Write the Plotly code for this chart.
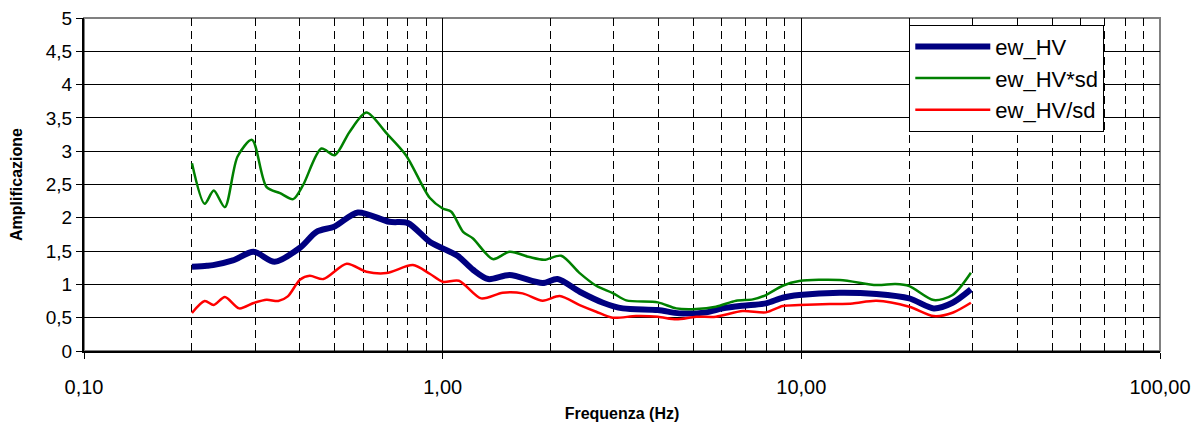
import plotly.graph_objects as go

# valori (frequenza in Hz, ampiezza)
freq_hv = [0.2, 0.22, 0.229, 0.26, 0.297, 0.34, 0.4, 0.445, 0.5, 0.58, 0.71, 0.8, 0.92,
           1.0, 1.1, 1.215, 1.34, 1.537, 1.9, 2.09, 2.41, 2.8, 3.18, 3.98, 4.57, 5.42,
           6.04, 6.86, 7.97, 8.87, 9.87, 12.8, 16.2, 20, 23.4, 26.4, 29.7]
ew_hv = [1.265, 1.28, 1.29, 1.36, 1.49, 1.34, 1.55, 1.79, 1.87, 2.08, 1.94, 1.92, 1.64,
         1.54, 1.43, 1.22, 1.08, 1.14, 1.02, 1.08, 0.89, 0.725, 0.64, 0.615, 0.565, 0.58,
         0.64, 0.68, 0.715, 0.8, 0.84, 0.875, 0.855, 0.79, 0.64, 0.725, 0.925]

freq_hv_sd = [0.2, 0.217, 0.23, 0.247, 0.268, 0.294, 0.323, 0.352, 0.383, 0.408, 0.459,
              0.5, 0.55, 0.613, 0.697, 0.79, 0.92, 1.0, 1.057, 1.14, 1.215, 1.38, 1.537,
              1.746, 1.92, 2.14, 2.41, 2.68, 2.98, 3.25, 3.98, 4.48, 5.09, 5.78, 6.58,
              7.32, 7.97, 8.87, 9.87, 12.8, 16.2, 18.3, 20, 23.4, 26.4, 29.7]
ew_hv_per_sd = [2.82, 2.21, 2.41, 2.16, 2.92, 3.17, 2.46, 2.37, 2.28, 2.49, 3.04,
                2.94, 3.29, 3.58, 3.27, 2.94, 2.3, 2.14, 2.09, 1.79, 1.69, 1.38, 1.49,
                1.41, 1.37, 1.43, 1.17, 0.98, 0.87, 0.76, 0.73, 0.64, 0.63, 0.665, 0.755,
                0.775, 0.84, 0.98, 1.05, 1.066, 0.99, 1.005, 0.975, 0.765, 0.84, 1.175]

freq_hv_div = [0.2, 0.217, 0.23, 0.247, 0.271, 0.297, 0.323, 0.348, 0.37, 0.4, 0.426,
               0.465, 0.54, 0.613, 0.697, 0.826, 0.92, 1.0, 1.11, 1.28, 1.47, 1.67, 1.9,
               2.12, 2.41, 2.68, 2.98, 3.46, 3.98, 4.48, 5.09, 5.78, 6.86, 7.97, 8.87,
               9.87, 12, 13.9, 16.2, 20, 23.4, 26.4, 29.7]
ew_hv_div_sd = [0.57, 0.75, 0.69, 0.81, 0.64, 0.72, 0.77, 0.75, 0.82, 1.07, 1.13,
                1.08, 1.31, 1.19, 1.17, 1.29, 1.16, 1.04, 1.055, 0.79, 0.875, 0.865, 0.755,
                0.825, 0.69, 0.59, 0.5, 0.525, 0.515, 0.475, 0.515, 0.515, 0.6, 0.58, 0.675,
                0.69, 0.705, 0.715, 0.755, 0.665, 0.525, 0.575, 0.725]

x_tickvals = [0.1, 1, 10, 100]
x_ticktext = ["0,10", "1,00", "10,00", "100,00"]
x_minor = [m * d for d in (0.1, 1, 10) for m in range(2, 10)]

font = "Liberation Sans, Arial, sans-serif"

fig = go.Figure()
fig.add_trace(go.Scatter(x=freq_hv, y=ew_hv, mode="lines", name="ew_HV",
                         line=dict(color="#000080", width=6, shape="spline", smoothing=0.8)))
fig.add_trace(go.Scatter(x=freq_hv_sd, y=ew_hv_per_sd, mode="lines", name="ew_HV*sd",
                         line=dict(color="#008000", width=2.5, shape="spline", smoothing=0.8)))
fig.add_trace(go.Scatter(x=freq_hv_div, y=ew_hv_div_sd, mode="lines", name="ew_HV/sd",
                         line=dict(color="#FF0000", width=2.5, shape="spline", smoothing=0.8)))

# bordo grigio dell'area del grafico
fig.add_shape(type="rect", xref="paper", yref="paper", x0=0, x1=1, y0=0, y1=1,
              line=dict(color="#808080", width=2), layer="below")

# la pagina ha 8px di margine nel body, quindi la figura e' un po' piu' piccola
fig.update_layout(
    width=1192, height=419,
    margin=dict(l=76, r=40, t=10, b=76),
    paper_bgcolor="white", plot_bgcolor="white",
    separators=", ",
    font=dict(family=font, size=19, color="black"),
    showlegend=True,
    legend=dict(x=0.767, y=0.98, xanchor="left", yanchor="top",
                bgcolor="white", bordercolor="black", borderwidth=1,
                font=dict(size=22), itemwidth=75, tracegroupgap=0),
    xaxis=dict(type="log", range=[-1, 2], automargin=False,
               tickmode="array", tickvals=x_tickvals, ticktext=x_ticktext,
               tickfont=dict(size=20),
               ticks="outside", ticklen=6, tickcolor="black",
               ticklabelstandoff=11,
               showgrid=True, gridcolor="black", gridwidth=1,
               showline=True, linecolor="black", linewidth=2,
               minor=dict(tickmode="array", tickvals=x_minor, ticks="inside", ticklen=6,
                          tickcolor="black", showgrid=True, gridcolor="black",
                          griddash="8px,5px", gridwidth=1),
               title=dict(text="<b>Frequenza (Hz)</b>", font=dict(size=16), standoff=11),
               zeroline=False),
    yaxis=dict(range=[0, 5], dtick=0.5, automargin=False,
               ticklabeloverflow="allow",
               ticks="outside", ticklen=6, tickcolor="black",
               showgrid=True, gridcolor="black", gridwidth=1,
               showline=True, linecolor="black", linewidth=2,
               title=dict(text="<b>Amplificazione</b>", font=dict(size=16), standoff=20),
               zeroline=False),
)

fig.write_html("out.html")
